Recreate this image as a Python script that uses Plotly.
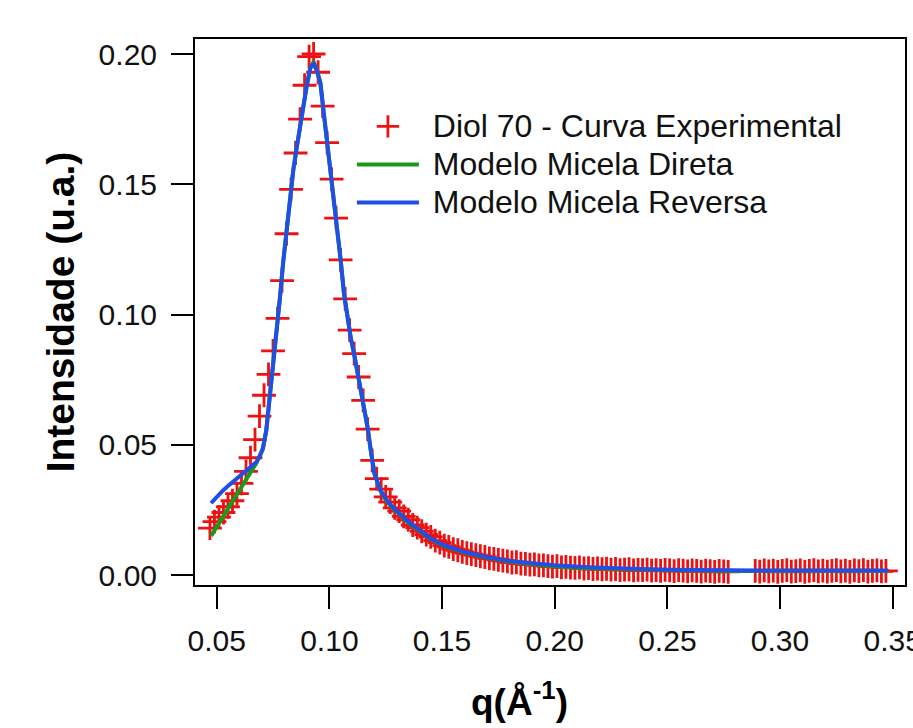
import plotly.graph_objects as go

# Experimental SAXS curve (Diol 70)
q_exp = [0.047, 0.049, 0.051, 0.053, 0.055, 0.057, 0.059, 0.061, 0.063, 0.065,
         0.067, 0.069, 0.071, 0.073, 0.075, 0.077, 0.079, 0.081, 0.083, 0.085,
         0.087, 0.089, 0.091, 0.093, 0.095, 0.097, 0.099, 0.101, 0.103, 0.105,
         0.107, 0.109, 0.111, 0.113, 0.115, 0.117, 0.119, 0.121, 0.123, 0.125,
         0.127, 0.129, 0.131, 0.133, 0.135, 0.137, 0.139, 0.141, 0.143, 0.145,
         0.147, 0.149, 0.151, 0.153, 0.155, 0.157, 0.159, 0.161, 0.163, 0.165,
         0.167, 0.169, 0.171, 0.173, 0.175, 0.177, 0.179, 0.181, 0.183, 0.185,
         0.187, 0.189, 0.191, 0.193, 0.195, 0.197, 0.199, 0.201, 0.203, 0.205,
         0.207, 0.209, 0.211, 0.213, 0.215, 0.217, 0.219, 0.221, 0.223, 0.225,
         0.227, 0.229, 0.231, 0.233, 0.235, 0.237, 0.239, 0.241, 0.243, 0.245,
         0.247, 0.249, 0.251, 0.253, 0.255, 0.257, 0.259, 0.261, 0.263, 0.265,
         0.267, 0.269, 0.271, 0.273, 0.275, 0.277,
         0.289, 0.291, 0.293, 0.295, 0.297, 0.299, 0.301, 0.303, 0.305, 0.307,
         0.309, 0.311, 0.313, 0.315, 0.317, 0.319, 0.321, 0.323, 0.325, 0.327,
         0.329, 0.331, 0.333, 0.335, 0.337, 0.339, 0.341, 0.343, 0.345, 0.347]
i_exp = [0.0180, 0.0205, 0.0222, 0.0240, 0.0262, 0.0285, 0.0312, 0.0352, 0.0398, 0.0450,
         0.0520, 0.0610, 0.0690, 0.0770, 0.0860, 0.0985, 0.1130, 0.1310, 0.1480, 0.1620,
         0.1750, 0.1880, 0.1990, 0.2000, 0.1930, 0.1800, 0.1660, 0.1520, 0.1370, 0.1210,
         0.1060, 0.0940, 0.0850, 0.0760, 0.0670, 0.0560, 0.0440, 0.0370, 0.0330, 0.0300,
         0.0280, 0.0258, 0.0245, 0.0225, 0.0212, 0.0192, 0.0182, 0.0168, 0.0155, 0.0146,
         0.0132, 0.0124, 0.0113, 0.0108, 0.0099, 0.0095, 0.0089, 0.0084, 0.0080, 0.0076,
         0.0072, 0.0069, 0.0064, 0.0062, 0.0058, 0.0055, 0.0052, 0.0048, 0.0049, 0.0044,
         0.0043, 0.0040, 0.0041, 0.0037, 0.0037, 0.0034, 0.0032, 0.0034, 0.0029, 0.0031,
         0.0028, 0.0027, 0.0029, 0.0025, 0.0026, 0.0023, 0.0025, 0.0022, 0.0024, 0.0021,
         0.0023, 0.0019, 0.0021, 0.0022, 0.0018, 0.0020, 0.0019, 0.0021, 0.0017, 0.0019,
         0.0016, 0.0020, 0.0018, 0.0015, 0.0019, 0.0017, 0.0014, 0.0018, 0.0016, 0.0013,
         0.0017, 0.0015, 0.0012, 0.0016, 0.0014, 0.0012,
         0.0016, 0.0013, 0.0018, 0.0014, 0.0017, 0.0012, 0.0016, 0.0019, 0.0013, 0.0015,
         0.0018, 0.0012, 0.0016, 0.0019, 0.0014, 0.0017, 0.0013, 0.0016, 0.0019, 0.0014,
         0.0017, 0.0012, 0.0018, 0.0015, 0.0019, 0.0013, 0.0016, 0.0018, 0.0014, 0.0016]

# Model curves
q_model = [0.0475, 0.050, 0.0525, 0.055, 0.0575, 0.060, 0.0625, 0.065, 0.0675, 0.069,
           0.0705, 0.072, 0.0735, 0.075, 0.0765, 0.078, 0.0795, 0.081, 0.0825, 0.084,
           0.0855, 0.087, 0.0885, 0.090, 0.0915, 0.093, 0.0945, 0.096, 0.0975, 0.099,
           0.1005, 0.102, 0.1035, 0.105, 0.1065, 0.108, 0.1095, 0.111, 0.1125, 0.114,
           0.1155, 0.117, 0.1185, 0.120, 0.1225, 0.125, 0.1275, 0.130, 0.135, 0.140,
           0.145, 0.150, 0.160, 0.170, 0.180, 0.190, 0.200, 0.215, 0.230, 0.245,
           0.260, 0.280, 0.300, 0.320, 0.348]
i_direta = [0.0150, 0.0185, 0.0220, 0.0255, 0.0287, 0.0320, 0.0355, 0.0393, 0.0428, 0.0455,
            0.0485, 0.0555, 0.0673, 0.0801, 0.0930, 0.1058, 0.1200, 0.1330, 0.1455, 0.1555,
            0.1640, 0.1720, 0.1810, 0.1880, 0.1945, 0.1970, 0.1935, 0.1890, 0.1775, 0.1665,
            0.1560, 0.1450, 0.1335, 0.1210, 0.1080, 0.0985, 0.0910, 0.0848, 0.0782, 0.0712,
            0.0642, 0.0565, 0.0470, 0.0390, 0.0326, 0.0288, 0.0262, 0.0240, 0.0201, 0.0169,
            0.0138, 0.0115, 0.0086, 0.0066, 0.0051, 0.0041, 0.0033, 0.0026, 0.0022, 0.0019,
            0.0017, 0.0015, 0.0015, 0.0015, 0.0015]
i_reversa = [0.0276, 0.0300, 0.0322, 0.0342, 0.0360, 0.0376, 0.0392, 0.0410, 0.0433, 0.0455,
             0.0485, 0.0555, 0.0673, 0.0801, 0.0930, 0.1058, 0.1200, 0.1330, 0.1455, 0.1555,
             0.1640, 0.1720, 0.1810, 0.1880, 0.1945, 0.1965, 0.1935, 0.1890, 0.1775, 0.1665,
             0.1560, 0.1450, 0.1335, 0.1210, 0.1080, 0.0985, 0.0910, 0.0848, 0.0782, 0.0712,
             0.0642, 0.0565, 0.0470, 0.0390, 0.0328, 0.0293, 0.0266, 0.0245, 0.0205, 0.0172,
             0.0140, 0.0117, 0.0088, 0.0068, 0.0054, 0.0045, 0.0037, 0.0030, 0.0025, 0.0021,
             0.0019, 0.0017, 0.0017, 0.0017, 0.0017]

series_names = ["Diol 70 - Curva Experimental", "Modelo Micela Direta", "Modelo Micela Reversa"]
x_ticks = [0.05, 0.10, 0.15, 0.20, 0.25, 0.30, 0.35]
y_ticks = [0.00, 0.05, 0.10, 0.15, 0.20]
x_title = "q(Å<sup>-1</sup>)"
y_title = "Intensidade (u.a.)"

assert len(q_exp) == len(i_exp)
assert len(q_model) == len(i_direta) == len(i_reversa)

FONT = "Arial, Liberation Sans, sans-serif"


def legend_label(s):
    return '<span style="font-size:32px">\u00a0' + s + '</span>'


fig = go.Figure()
fig.add_trace(go.Scatter(
    x=q_exp, y=i_exp, mode="markers", name=legend_label(series_names[0]),
    marker=dict(symbol="cross-thin", size=17, color="#ee1111",
                line=dict(color="#ee1111", width=2.8)),
))
fig.add_trace(go.Scatter(
    x=q_model, y=i_direta, mode="lines", name=legend_label(series_names[1]),
    line=dict(color="#1a9a1a", width=4),
))
fig.add_trace(go.Scatter(
    x=q_model, y=i_reversa, mode="lines", name=legend_label(series_names[2]),
    line=dict(color="#1f4fe6", width=4),
))

axis_common = dict(
    showline=True, linewidth=2, linecolor="#000", mirror=True,
    ticks="outside", ticklen=22, tickwidth=2, tickcolor="#000",
    showgrid=False, zeroline=False, tickformat=".2f",
    tickfont=dict(family=FONT, size=30, color="#111"),
    ticklabeloverflow="allow",
    automargin=False,
)

fig.update_xaxes(
    range=[0.04037, 0.35546], tickvals=x_ticks, ticklabelstandoff=6,
    **axis_common,
)
fig.update_yaxes(
    range=[-0.00384, 0.20576], tickvals=y_ticks, ticklabelstandoff=8,
    title=dict(text=y_title,
               font=dict(family=FONT, size=39, color="#000", weight="bold"),
               standoff=12),
    **axis_common,
)

# x-axis title placed slightly left of centre, as in the original figure
fig.add_annotation(
    text=x_title, xref="paper", yref="paper", x=0.4577, y=-0.2106,
    xanchor="center", yanchor="middle", showarrow=False,
    font=dict(family=FONT, size=37, color="#000", weight="bold"),
)

fig.update_layout(
    width=913, height=728,
    margin=dict(l=195, r=8, t=39, b=143, pad=0),
    paper_bgcolor="white", plot_bgcolor="white",
    font=dict(family=FONT, color="#111"),
    showlegend=True,
    legend=dict(x=0.221, y=0.884, xanchor="left", yanchor="top",
                font=dict(family=FONT, size=27, color="#111"),
                itemwidth=62, bgcolor="rgba(0,0,0,0)", borderwidth=0),
)

fig.write_html("out.html", config={"displayModeBar": False},
               post_script="document.body.style.margin='0px';")
